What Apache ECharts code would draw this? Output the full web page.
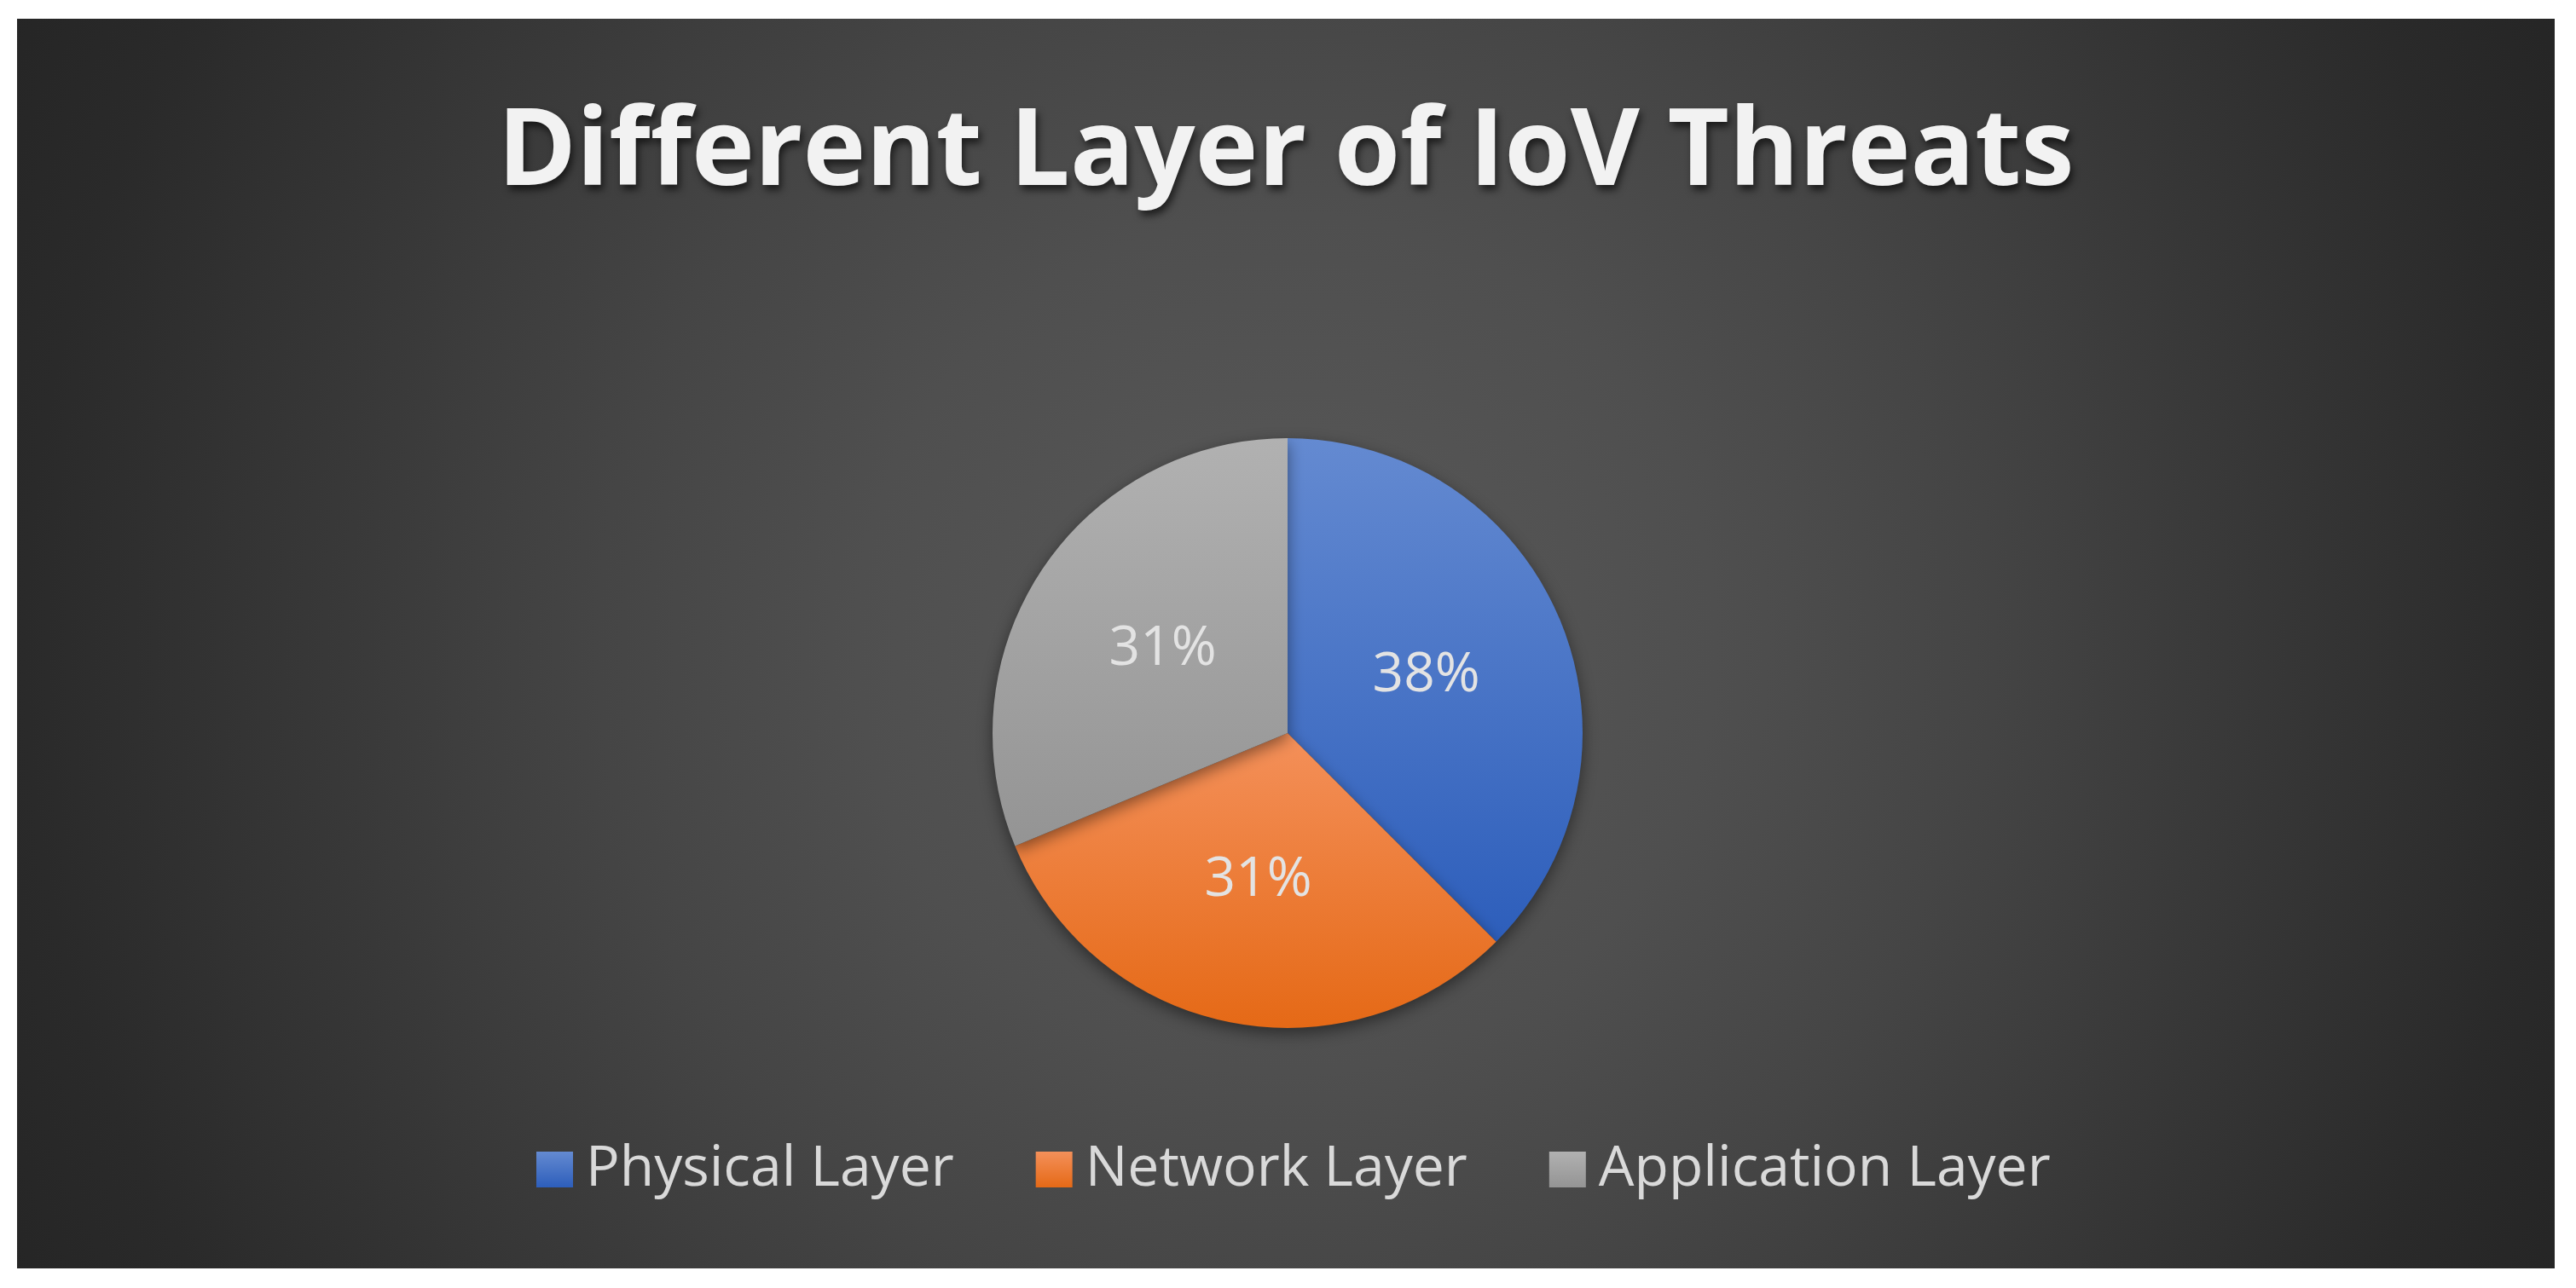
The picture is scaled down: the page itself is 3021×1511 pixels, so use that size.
<!DOCTYPE html>
<html>
<head>
<meta charset="utf-8">
<title>Different Layer of IoV Threats</title>
<script src="https://cdn.jsdelivr.net/npm/echarts@6/dist/echarts.min.js"></script>
<style>
    html, body {
        margin: 0;
        padding: 0;
        background: #ffffff;
    }
    #myChart {
        position: absolute;
        left: 20px;
        top: 22px;
        width: 2976px;
        height: 1466px;
        background: radial-gradient(circle 1680px at 50% 50%, #595959 0%, #4f4f4f 30%, #454545 48%, #363636 70%, #2a2a2a 88%, #252525 100%);
    }
</style>
</head>
<body>
<div id="myChart"></div>
<script>
    // chart data
    var titleText = 'Different Layer of IoV Threats';
    var layers = ['Physical Layer', 'Network Layer', 'Application Layer'];
    var shares = [37.5, 31.25, 31.25];

    // vertical gradient per slice (top colour, bottom colour)
    var sliceColors = [
        ['#648ad1', '#2d5ebb'],
        ['#f4905a', '#e56916'],
        ['#b1b1b1', '#949494']
    ];

    function vGrad(pair) {
        return new echarts.graphic.LinearGradient(0, 0, 0, 1, [
            {offset: 0, color: pair[0]},
            {offset: 1, color: pair[1]}
        ]);
    }

    var myChart = echarts.init(document.getElementById('myChart'), null, {renderer: 'canvas'});

    var pieData = [];
    for (var i = 0; i < layers.length; i++) {
        pieData.push({
            name: layers[i],
            value: shares[i],
            itemStyle: {color: vGrad(sliceColors[i])}
        });
    }

    myChart.setOption({
        backgroundColor: 'transparent',
        animation: false,
        title: {
            text: titleText,
            left: 'center',
            top: 92,
            textStyle: {
                fontFamily: 'Open Sans',
                fontWeight: 'bold',
                fontSize: 125,
                color: '#f2f2f2',
                textShadowColor: 'rgba(0,0,0,0.6)',
                textShadowBlur: 8,
                textShadowOffsetX: 3,
                textShadowOffsetY: 6
            }
        },
        legend: {
            data: layers,
            left: 604,
            top: 1310,
            orient: 'horizontal',
            icon: 'rect',
            itemWidth: 43,
            itemHeight: 42,
            itemGap: 96,
            textStyle: {
                fontFamily: 'Open Sans',
                fontSize: 66,
                color: '#d9d9d9',
                lineHeight: 70,
                padding: [0, 0, 0, 10]
            }
        },
        series: [{
            name: 'IoV Threats',
            type: 'pie',
            center: [1490, 838],
            radius: [0, 346],
            startAngle: 90,
            clockwise: true,
            percentPrecision: 0,
            avoidLabelOverlap: false,
            itemStyle: {
                borderWidth: 0,
                shadowColor: 'rgba(0,0,0,0.45)',
                shadowBlur: 18,
                shadowOffsetY: 6
            },
            label: {
                show: true,
                position: 'inside',
                formatter: '{d}%',
                fontFamily: 'Open Sans',
                fontSize: 64,
                color: '#e3e3e3'
            },
            labelLine: {show: false},
            emphasis: {disabled: true},
            data: pieData
        }]
    });

    window.onresize = function () {
        myChart.resize();
    };
</script>
</body>
</html>
